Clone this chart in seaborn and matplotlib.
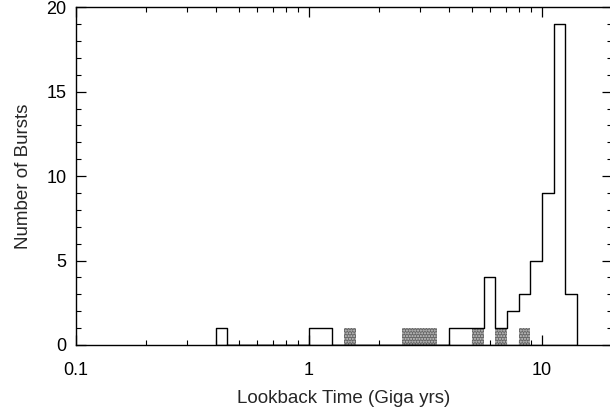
import seaborn as sns
import matplotlib.pyplot as plt
import matplotlib.ticker as mticker
import numpy as np

# Lookback time of each bin centre (Gyr) and number of bursts (all bursts, outline)
tiempo_todos = [0.42, 1.06, 1.19, 4.22, 4.73, 5.31, 5.96, 6.68, 7.50, 8.41, 9.44, 10.6, 11.9, 13.3]
cuentas_todos = [1, 1, 1, 1, 1, 1, 4, 1, 2, 3, 5, 9, 19, 3]

# Shaded subset
tiempo_sombra = [1.50, 2.66, 2.99, 3.35, 5.31, 6.68, 8.41]
cuentas_sombra = [1, 1, 1, 1, 1, 1, 1]

sns.set_style("ticks")
plt.rcParams['font.family'] = ['Liberation Sans', 'DejaVu Sans']

fig = plt.figure(figsize=(6.1, 4.09), dpi=100)
ax = fig.add_axes([0.1246, 0.1565, 0.8787, 0.826])

# rango de bins en log10, ancho 0.05 dex
rango_log = (-0.4, 1.15)
n_bins = 31

sns.histplot(x=tiempo_sombra, weights=cuentas_sombra, bins=n_bins, binrange=rango_log,
             log_scale=True, element="bars", fill=True, color="0.4", alpha=1,
             linewidth=0, hatch="......", edgecolor="0.8", ax=ax)
# contorno: fill con cara transparente para que cierre contra la base
sns.histplot(x=tiempo_todos, weights=cuentas_todos, bins=n_bins, binrange=rango_log,
             log_scale=True, element="step", fill=True, color="black", facecolor="none",
             edgecolor="black", linewidth=1.0, ax=ax)

ax.set_xlim(0.1, 20)
ax.set_ylim(0, 20)
ax.xaxis.set_major_locator(mticker.FixedLocator([0.1, 1, 10]))
ax.xaxis.set_major_formatter(mticker.FixedFormatter(["0.1", "1", "10"]))
ax.xaxis.set_minor_locator(mticker.LogLocator(base=10, subs=np.arange(2, 10)))
ax.xaxis.set_minor_formatter(mticker.NullFormatter())
ax.yaxis.set_major_locator(mticker.MultipleLocator(5))
ax.yaxis.set_minor_locator(mticker.MultipleLocator(1))

ax.tick_params(which="both", direction="in", top=True, right=True, colors="black",
               labelsize=13)
ax.tick_params(which="major", length=7, width=0.9)
ax.tick_params(which="minor", length=3.5, width=0.8)
ax.tick_params(axis="x", which="major", pad=12)
ax.tick_params(axis="y", which="major", pad=7)
for s in ax.spines.values():
    s.set_visible(True)
    s.set_linewidth(1.0)
    s.set_color("black")

ax.set_xlabel("Lookback Time (Giga yrs)", fontsize=13.5, labelpad=8)
ax.set_ylabel("Number of Bursts", fontsize=13.5, labelpad=10)

plt.savefig("out.png", dpi=100)
